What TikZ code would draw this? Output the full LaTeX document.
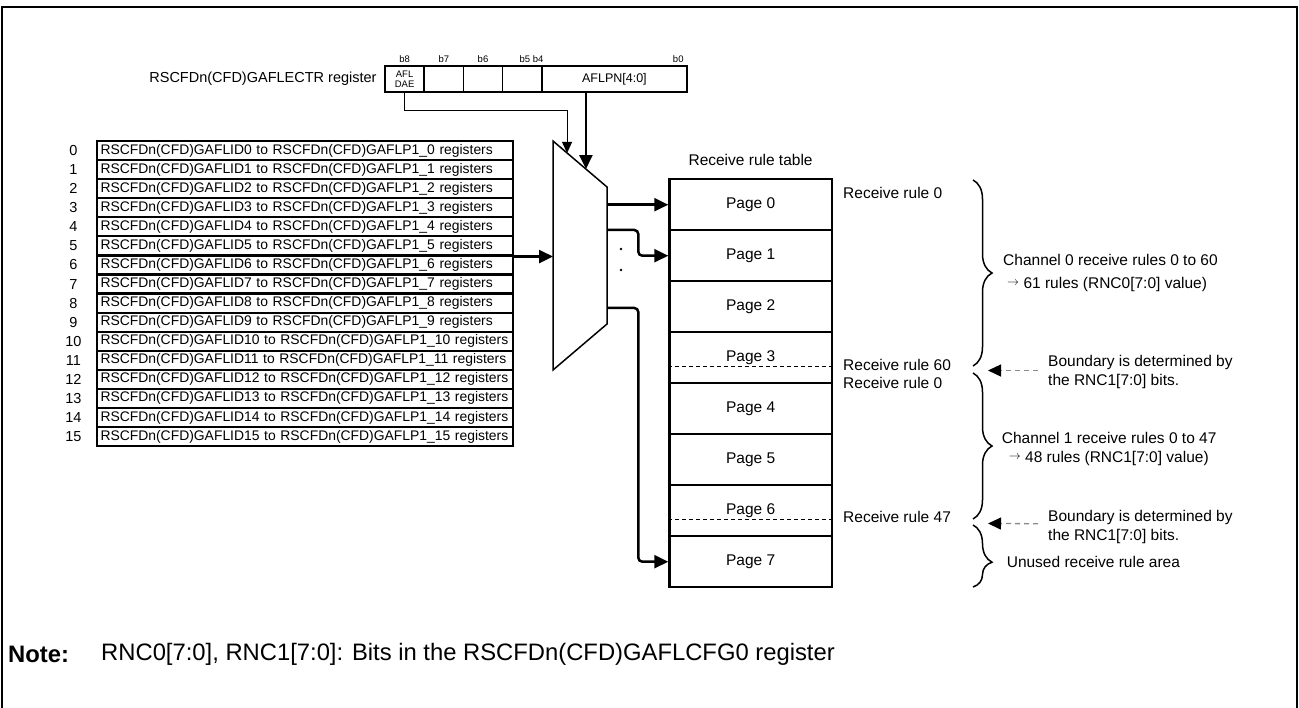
\documentclass[tikz,border=0pt]{standalone}
\usepackage{fontspec}
\setmainfont{Liberation Sans}
\usetikzlibrary{arrows.meta,calc,positioning,decorations.pathreplacing}
\definecolor{BoundGray}{HTML}{8A8A8A}

\begin{document}
\begin{tikzpicture}[x=1pt,y=-1pt,>={Triangle[length=14pt,width=13pt]},line cap=butt,line join=miter,
  txt/.style={font=\fontsize{15.5}{19}\selectfont,inner sep=0pt},
  rowbox/.style={draw,line width=2.2pt,minimum height=19.06pt,text width=409pt,align=left,
    inner xsep=3.5pt,inner ysep=0pt,font=\fontsize{13.9}{16}\selectfont},
  regcell/.style={draw,line width=1.5pt,minimum height=26pt,inner sep=0pt},
  bitlbl/.style={font=\fontsize{9.5}{10}\selectfont,inner sep=0pt},
  pagebox/.style={draw,line width=2.2pt,minimum width=162.4pt,minimum height=51pt,txt},
  route/.style={line width=2.5pt,rounded corners=4pt},
  bnd/.style={BoundGray,line width=1.3pt,dash pattern=on 5pt off 4pt,
    -{Triangle[length=13pt,width=12pt,color=black]}},
  rulebrace/.style={decorate,decoration={brace,amplitude=19pt},line width=1.5pt}]

\def\smallarrow{\raisebox{3pt}{\fontsize{12}{12}\selectfont$\rightarrow$}}

\useasboundingbox (0,0) rectangle (1299,708);

% Frame
\draw[line width=1.5pt] (2,708) -- (2,7) -- (1297,7) -- (1297,708);

% ---- GAFLECTR REGISTER ----
\node[regcell,minimum width=39.2pt,align=center,font=\fontsize{9.5}{10.5}\selectfont] (afldae) at (404.6,79) {AFL\\DAE};
\node[regcell,minimum width=39.2pt] (bit7) at (443.8,79) {};
\node[regcell,minimum width=39.2pt] (bit6) at (483,79) {};
\node[regcell,minimum width=39.2pt] (bit5) at (522.2,79) {};
\node[regcell,minimum width=145.2pt,font=\fontsize{12.5}{14}\selectfont] (aflpn) at (614.4,79) {AFLPN[4:0]};

\node[bitlbl,above=2.5pt of afldae] (lb8) {b8};
\node[bitlbl,above=2.5pt of bit7] (lb7) {b7};
\node[bitlbl,above=2.5pt of bit6] (lb6) {b6};
\node[bitlbl,anchor=south east] (lb54) at ($(bit5.north east)+(1,-2.5)$) {b5 b4};
\node[bitlbl,anchor=south east] (lb0) at ($(aflpn.north east)+(-4,-2.5)$) {b0};

\node[font=\fontsize{14.5}{17}\selectfont,inner sep=0pt,left=7.5pt of afldae] (ectrlbl) {RSCFDn(CFD)GAFLECTR register};

% ---- RULE REGISTER LIST ----
\foreach \i in {0,...,15} {
  \node[rowbox] (gafl\i) at (305,{150.6+19.06*\i}) {RSCFDn(CFD)GAFLID\i{} to RSCFDn(CFD)GAFLP1\_\i{} registers};
  \node[font=\fontsize{14.5}{16}\selectfont,inner sep=0pt] (num\i) at (73.5,{150.6+19.06*\i}) {\i};
}

% ---- SELECTOR ----
\coordinate (muxtl) at (553,141);
\coordinate (muxtr) at (607,187);
\coordinate (muxbr) at (607,324);
\coordinate (muxbl) at (553,370);
\draw[line width=1.5pt] (muxtl) -- (muxtr) -- (muxbr) -- (muxbl) -- cycle;

% inputs
\coordinate (daein) at ($(muxtl)!0.26!(muxtr)$);
\coordinate (pnin) at ($(muxtl)!0.61!(muxtr)$);
\draw[line width=1pt,->,>={Triangle[length=11pt,width=10pt]}] (afldae.south) |- ($(daein)+(0,-42)$) -- (daein);
\draw[line width=2.5pt,->] (aflpn.south -| pnin) -- (pnin);
\draw[line width=2.5pt,->] (gafl5.south east) -- (gafl5.south east -| muxtl);

% ---- RECEIVE RULE TABLE ----
\foreach \i in {0,...,7}
  \node[pagebox] (page\i) at (750.6,{204.7+51*\i}) {Page \i};
\node[txt,above=12pt of page0] (tbllbl) {Receive rule table};

% boundaries inside pages 3 and 6
\draw[line width=1.3pt,dash pattern=on 4pt off 3pt] ($(page3.west)+(0,8.5)$) -- ($(page3.east)+(3,8.5)$);
\draw[line width=1.3pt,dash pattern=on 4pt off 3pt] ($(page6.west)+(0,8.5)$) -- ($(page6.east)+(3,8.5)$);

% outputs
\draw[line width=2.5pt,->] (page0.west -| muxtr) -- (page0.west);
\draw[route,->] ($(muxtr)+(0,43)$) -| ($(page1.west)+(-30,0)$) -- (page1.west);
\draw[route,->] ($(muxbr)+(0,-16)$) -| ($(page7.west)+(-30,0)$) -- (page7.west);
\fill (621,249) circle (1.4pt) (621,270) circle (1.4pt);

% rule numbers
\node[txt,anchor=west] (rr0) at (843,193) {Receive rule 0};
\node[txt,anchor=west] (rr60) at (843,365) {Receive rule 60};
\node[txt,anchor=west] (rr0b) at (843,382.5) {Receive rule 0};
\node[txt,anchor=west] (rr47) at (843,517) {Receive rule 47};

% ---- CHANNEL BRACES ----
\coordinate (junc0) at (988,370.5);
\coordinate (junc1) at (988,523.5);
\draw[rulebrace] (973,180) -- (973,366);
\draw[rulebrace] (973,373) -- (973,519);
\draw[rulebrace,decoration={aspect=0.6}] (973,525) -- (973,587);

\node[txt,anchor=west,align=left] (chan0) at (1003,273) {Channel 0 receive rules 0 to 60\\[3.3pt]\hspace{4pt}\smallarrow\ 61 rules (RNC0[7:0] value)};
\node[txt,anchor=west,align=left] (chan1) at (1001.7,448.8) {Channel 1 receive rules 0 to 47\\\hspace{7pt}\smallarrow\ 48 rules (RNC1[7:0] value)};
\node[txt,anchor=west] (unused) at (1006.6,562) {Unused receive rule area};

\node[txt,anchor=west,align=left] (bound0) at (1048,371.5) {Boundary is determined by\\the RNC1[7:0] bits.};
\node[txt,anchor=west,align=left] (bound1) at (1048,526.7) {Boundary is determined by\\the RNC1[7:0] bits.};
\draw[bnd] ($(bound0.west)+(-10,-1)$) -- (junc0);
\draw[bnd] ($(bound1.west)+(-10,-3)$) -- (junc1);

% ---- NOTE ----
\node[font=\fontsize{23.8}{27}\selectfont\bfseries,inner sep=0pt,anchor=west] (notehd) at (8,654.6) {Note:};
\node[font=\fontsize{23.8}{27}\selectfont,inner sep=0pt,anchor=west] (notetxt) at (101,654.6) {RNC0[7:0], RNC1[7:0]: Bits in the RSCFDn(CFD)GAFLCFG0 register};

\end{tikzpicture}
\end{document}
